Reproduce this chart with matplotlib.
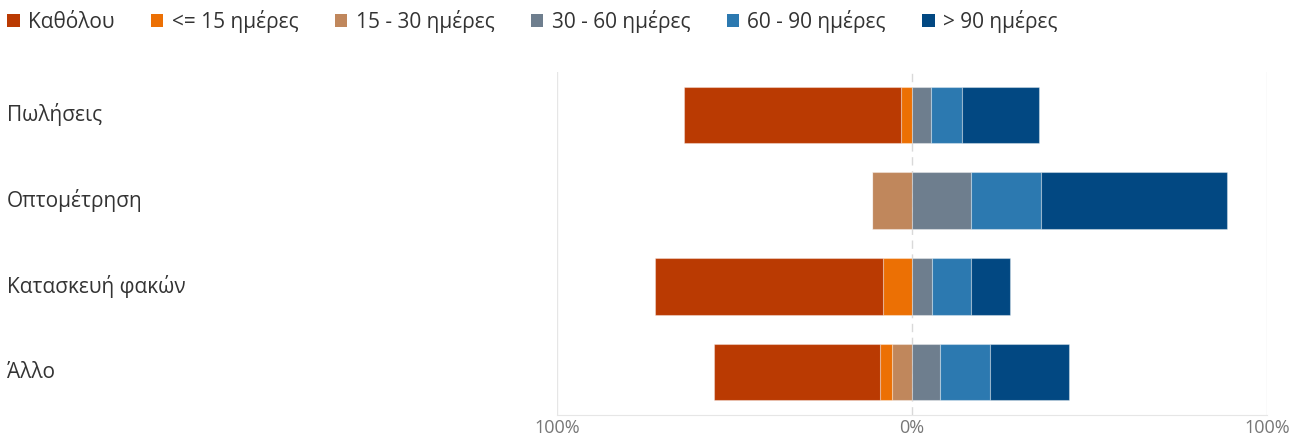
import matplotlib.pyplot as plt
import matplotlib.transforms as mtransforms
from matplotlib.patches import Patch
import numpy as np

plt.rcParams['font.family'] = ['Open Sans', 'DejaVu Sans']

# Categories (top to bottom) and the share of each answer, in %
categories = ['Πωλήσεις', 'Οπτομέτρηση', 'Κατασκευή φακών', 'Άλλο']
series_names = ['Καθόλου', '<= 15 ημέρες', '15 - 30 ημέρες',
                '30 - 60 ημέρες', '60 - 90 ημέρες', '> 90 ημέρες']
never = [61.2, 0.0, 64.2, 46.8]
upto15 = [3.0, 0.0, 8.1, 3.4]
d15_30 = [0.0, 11.3, 0.0, 5.6]
d30_60 = [5.4, 16.6, 5.5, 7.9]
d60_90 = [8.7, 19.7, 11.2, 14.0]
over90 = [21.8, 52.4, 11.0, 22.3]

colors = ['#BA3A02', '#EC7004', '#C0875C', '#6E7E8E', '#2C79B0', '#024882']

fig = plt.figure(figsize=(13.03, 4.37), dpi=100)
ax = fig.add_axes([557 / 1303, 22 / 437, 710 / 1303, 343 / 437])

y = np.arange(len(categories))
h = 0.66
edge = dict(edgecolor=(1, 1, 1, 0.35), linewidth=0.8)

# left side: from zero outward 15-30, <=15, never
left_parts = [d15_30, upto15, never]
left_cols = [colors[2], colors[1], colors[0]]
start = np.zeros(len(categories))
for vals, c in zip(left_parts, left_cols):
    v = np.array(vals)
    ax.barh(y, -v, left=-start, height=h, color=c, **edge, zorder=3)
    start += v

# right side
start = np.zeros(len(categories))
for vals, c in zip([d30_60, d60_90, over90], colors[3:]):
    v = np.array(vals)
    ax.barh(y, v, left=start, height=h, color=c, **edge, zorder=3)
    start += v

ax.set_xlim(-100, 100)
ax.set_ylim(3.5, -0.5)
ax.set_xticks([-100, 0, 100], ['100%', '0%', '100%'])
ax.tick_params(axis='x', length=0, labelsize=13, colors='#777777', pad=3)
ax.set_yticks([])
for s in ['top', 'left', 'right']:
    ax.spines[s].set_visible(False)
ax.spines['bottom'].set_color('#e6e6e6')

ax.axvline(-100, color='#e6e6e6', lw=1, zorder=1)
ax.axvline(100, color='#e6e6e6', lw=1, zorder=1)
ax.axvline(0, color='#d9d9d9', lw=1, ls=(0, (6, 4)), zorder=1)

# category labels at the left edge of the figure
trans = mtransforms.blended_transform_factory(fig.transFigure, ax.transData)
for yi, name in zip(y, categories):
    ax.text(7 / 1303, yi, name, transform=trans, ha='left', va='center',
            fontsize=15, color='#333333')

handles = [Patch(facecolor=c, edgecolor='none') for c in colors]
fig.legend(handles, series_names, loc='upper left',
           bbox_to_anchor=(-3 / 1303, 1.0), ncol=6, frameon=False,
           fontsize=15, handlelength=0.6, handleheight=0.6,
           handletextpad=0.4, columnspacing=1.75, borderaxespad=0.08,
           labelcolor='#333333')

fig.savefig('out.png', dpi=100)
